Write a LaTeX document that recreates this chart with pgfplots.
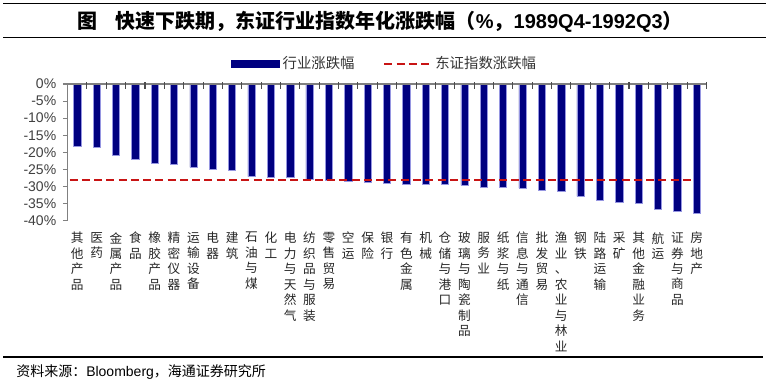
\documentclass[border=0pt]{standalone}
\usepackage{pgfplots}
\pgfplotsset{compat=1.18}
\usepackage{fontspec}
\setmainfont{Liberation Sans}
\newfontfamily\cjk{Noto Sans CJK SC}
\definecolor{barnavy}{RGB}{0,0,128}
\definecolor{baredge}{RGB}{150,150,225}
\definecolor{dashred}{RGB}{200,20,20}
\definecolor{axgray}{RGB}{128,128,128}
\begin{document}
\begin{tikzpicture}
\begin{scope}[x=0.75pt,y=-0.75pt]
\draw[line width=1.3pt] (3,3.5) -- (766,3.5);
\draw[line width=1.3pt] (3,37.5) -- (766,37.5);
\draw[line width=1.3pt] (3,357) -- (763,357);
\node[inner sep=0pt] at (380,21.5) {\fontsize{15}{18}\selectfont{\cjk\bfseries 图\hspace{14pt}快速下跌期，东证行业指数年化涨跌幅（}{\bfseries\%}{\cjk\bfseries ，}{\bfseries 1989Q4-1992Q3}{\cjk\bfseries ）}};
\node[anchor=west,inner sep=0pt] at (16,372) {\fontsize{10.5}{12}\selectfont{\cjk 资料来源：}Bloomberg{\cjk ，海通证券研究所}};
\end{scope}
\begin{axis}[
  at={(50.7pt,-63pt)}, anchor=north west,
  scale only axis, width=479.1pt, height=102.5pt,
  xmin=-0.5, xmax=32.5, ymin=-40, ymax=0,
  axis y line*=left, axis x line*=bottom,
  x axis line style={draw=none},
  y axis line style={axgray, line width=0.8pt},
  xtick={0,...,32},
  xticklabels={其\\他\\产\\品, 医\\药, 金\\属\\产\\品, 食\\品, 橡\\胶\\产\\品, 精\\密\\仪\\器, 运\\输\\设\\备, 电\\器, 建\\筑, 石\\油\\与\\煤, 化\\工, 电\\力\\与\\天\\然\\气, 纺\\织\\品\\与\\服\\装, 零\\售\\贸\\易, 空\\运, 保\\险, 银\\行, 有\\色\\金\\属, 机\\械, 仓\\储\\与\\港\\口, 玻\\璃\\与\\陶\\瓷\\制\\品, 服\\务\\业, 纸\\浆\\与\\纸, 信\\息\\与\\通\\信, 批\\发\\贸\\易, 渔\\业\\、\\农\\业\\与\\林\\业, 钢\\铁, 陆\\路\\运\\输, 采\\矿, 其\\他\\金\\融\\业\\务, 航\\运, 证\\券\\与\\商\\品, 房\\地\\产},
  xtick style={draw=none},
  xticklabel style={anchor=north, align=center, inner sep=0pt, yshift=-5pt, text=black!85, font=\cjk\fontsize{9.5}{11.6}\selectfont},
  ytick={-40,-35,...,0},
  yticklabels={-40\%,-35\%,-30\%,-25\%,-20\%,-15\%,-10\%,-5\%,0\%},
  ytick style={axgray, line width=0.8pt},
  tick align=outside, major tick length=3.5pt,
  yticklabel style={font=\fontsize{10.5}{12}\selectfont, text=black!75, xshift=-1.5pt},
  legend style={at={(0.497,1.15)}, anchor=center, draw=none, fill=none,
    legend columns=2, font=\cjk\fontsize{10.8}{12}\selectfont, text=black!80,
    inner sep=0pt, nodes={inner sep=2.5pt},
    /tikz/every even column/.append style={column sep=19pt}},
  clip=false,
]
\addplot[ybar, bar width=5.4pt, fill=barnavy, draw=baredge, line width=0.45pt,
  legend image code/.code={\fill[barnavy] (0pt,-2.6pt) rectangle (36pt,2.6pt);}]
  coordinates {
  (0,-18.1) (1,-18.6) (2,-21.0) (3,-21.9) (4,-23.3) (5,-23.5) (6,-24.4)
  (7,-25.1) (8,-25.4) (9,-27.1) (10,-27.3) (11,-27.4) (12,-27.9) (13,-28.2)
  (14,-28.4) (15,-28.8) (16,-29.2) (17,-29.4) (18,-29.5) (19,-29.5) (20,-29.7)
  (21,-30.1) (22,-30.1) (23,-30.5) (24,-31.0) (25,-31.4) (26,-32.9) (27,-34.0)
  (28,-34.5) (29,-34.9) (30,-36.7) (31,-37.4) (32,-37.9)};
\addlegendentry{行业涨跌幅}
\addplot[dashred, line width=1.5pt, dash pattern=on 6pt off 3.2pt, sharp plot,
  legend image code/.code={\draw (0pt,0pt) -- (35pt,0pt);}]
  coordinates {(-0.4,-28.1) (31.8,-28.1)};
\addlegendentry{东证指数涨跌幅}
\draw[axgray, line width=0.8pt] (axis cs:-0.5,0) -- (axis cs:32.5,0);
\pgfplotsinvokeforeach{0.5,1.5,...,32.5}{
  \draw[black!70, line width=0.8pt] ([yshift=1.2pt]axis cs:#1,0) -- ([yshift=-3.5pt]axis cs:#1,0);
}
\end{axis}
\pgfresetboundingbox
\path (0pt,0pt) rectangle (576.75pt,-290.25pt);
\end{tikzpicture}
\end{document}
